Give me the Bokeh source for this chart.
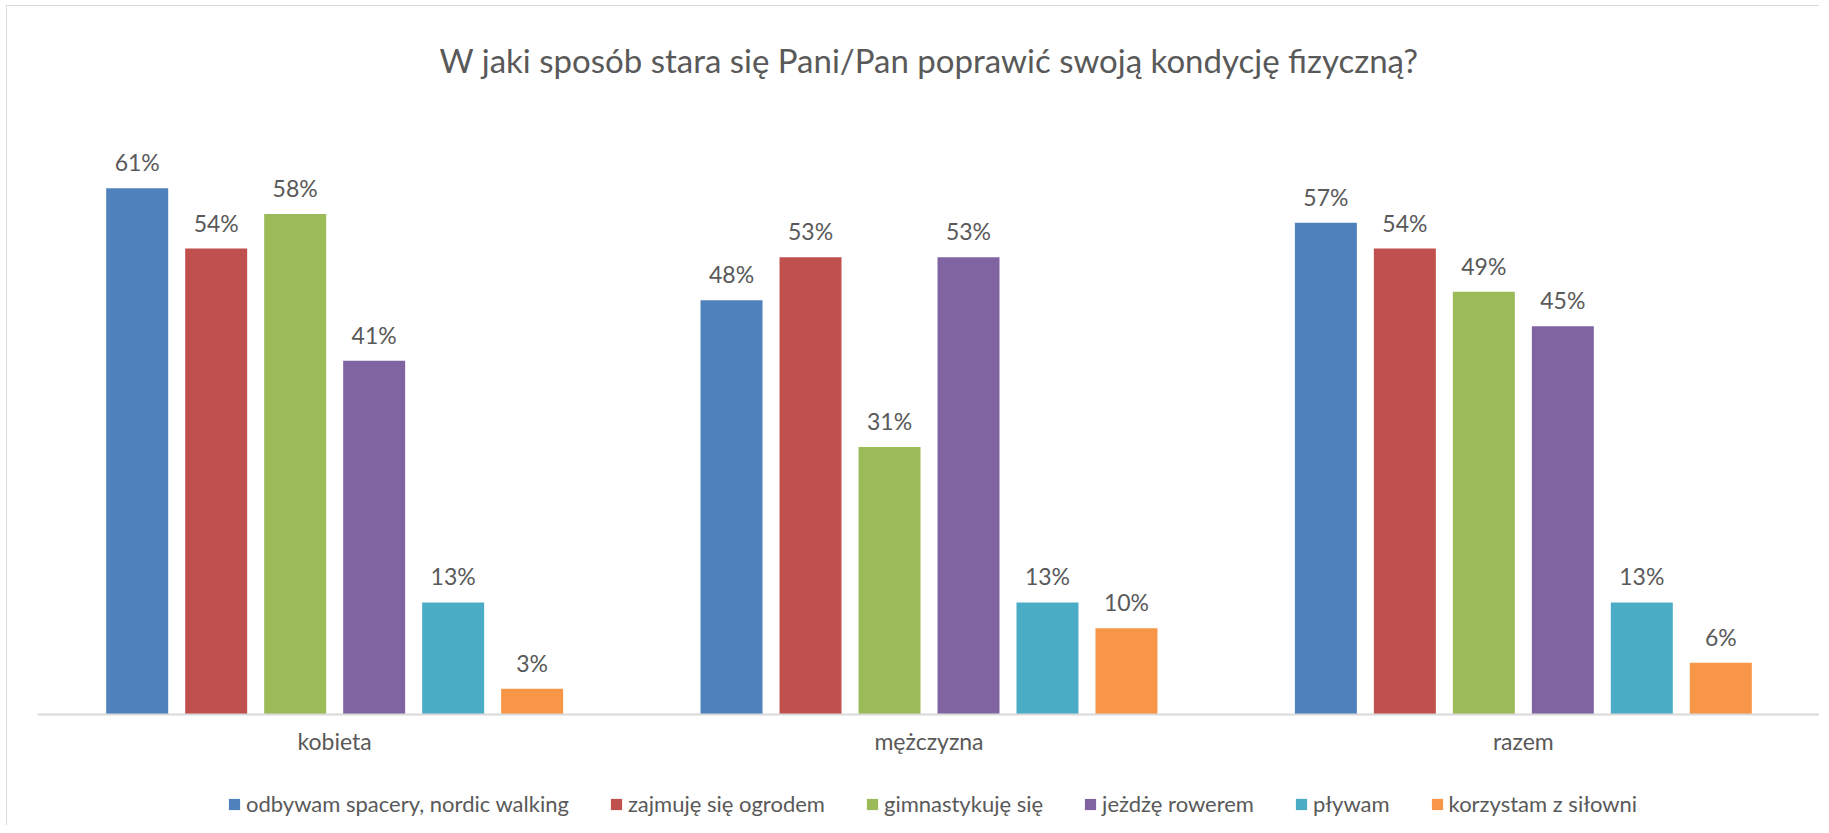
from bokeh.plotting import figure
from bokeh.models import ColumnDataSource, FactorRange, Range1d, Legend, LegendItem
from bokeh.transform import dodge
from bokeh.core.properties import value
from bokeh.embed import file_html
from bokeh.resources import INLINE

# ---- data ----
groups = ["kobieta", "mężczyzna", "razem"]
series_names = [
    "odbywam spacery, nordic walking",
    "zajmuję się ogrodem",
    "gimnastykuję się",
    "jeżdżę rowerem",
    "pływam",
    "korzystam z siłowni",
]
spacery = [61, 48, 57]
ogrod = [54, 53, 54]
gimnastyka = [58, 31, 49]
rower = [41, 53, 45]
plywanie = [13, 13, 13]
silownia = [3, 10, 6]
title_text = "W jaki sposób stara się Pani/Pan poprawić swoją kondycję fizyczną?"

series_values = [spacery, ogrod, gimnastyka, rower, plywanie, silownia]
colors = ["#4F81BD", "#C0504D", "#9BBB59", "#8064A2", "#4BACC6", "#F79646"]

FONT = "Lato"
TXT = "#595959"

H = 820
TOP = 104
PX = 8.63
p = figure(
    width=1813, height=H,
    x_range=FactorRange(*groups, range_padding=0),
    y_range=Range1d(-(H - TOP - 70 * PX) / PX, 70),
    output_backend="svg", toolbar_location=None,
    min_border_left=30, min_border_right=0,
    min_border_top=TOP, min_border_bottom=0,
)
p.styles = {"margin-left": "6px", "margin-top": "5px",
            "border-top": "1px solid #D9D9D9", "border-left": "1px solid #D9D9D9"}

p.title.text = title_text
p.title.align = "center"
p.title.text_font = FONT
p.title.text_font_style = "normal"
p.title.text_font_size = "33px"
p.title.text_color = TXT
p.title.standoff = 62

stride = 0.1329
bw = 0.1043
items = []
for i, (name, vals, col) in enumerate(zip(series_names, series_values, colors)):
    src = ColumnDataSource(dict(cat=groups, val=vals, lab=[f"{v}%" for v in vals]))
    off = (i - 2.5) * stride
    r = p.vbar(x=dodge("cat", off, range=p.x_range), top="val", width=bw,
               source=src, fill_color=col, line_color=None)
    p.text(x=dodge("cat", off, range=p.x_range), y="val", text="lab", source=src,
           text_align="center", text_baseline="alphabetic", y_offset=-26,
           text_font=value(FONT), text_font_size="23px", text_color=TXT)
    items.append(LegendItem(label=name, renderers=[r]))

legend = Legend(items=items, orientation="horizontal", location=(190, 9),
                glyph_width=14, glyph_height=14, label_standoff=5, spacing=40,
                label_text_font=FONT, label_text_font_size="22px",
                label_text_color=TXT, border_line_alpha=0,
                background_fill_alpha=0, padding=0, margin=0)
p.add_layout(legend, "center")

p.xaxis.fixed_location = 0
p.xaxis.axis_line_color = "#D9D9D9"
p.xaxis.axis_line_width = 2
p.xaxis.major_tick_line_color = None
p.xaxis.minor_tick_line_color = None
p.xaxis.major_label_standoff = 6
p.xaxis.major_label_text_font = FONT
p.xaxis.major_label_text_font_size = "23px"
p.xaxis.major_label_text_color = TXT
p.yaxis.visible = False
p.xgrid.visible = False
p.ygrid.visible = False
p.outline_line_color = None

open("out.html", "w").write(file_html(p, INLINE))
